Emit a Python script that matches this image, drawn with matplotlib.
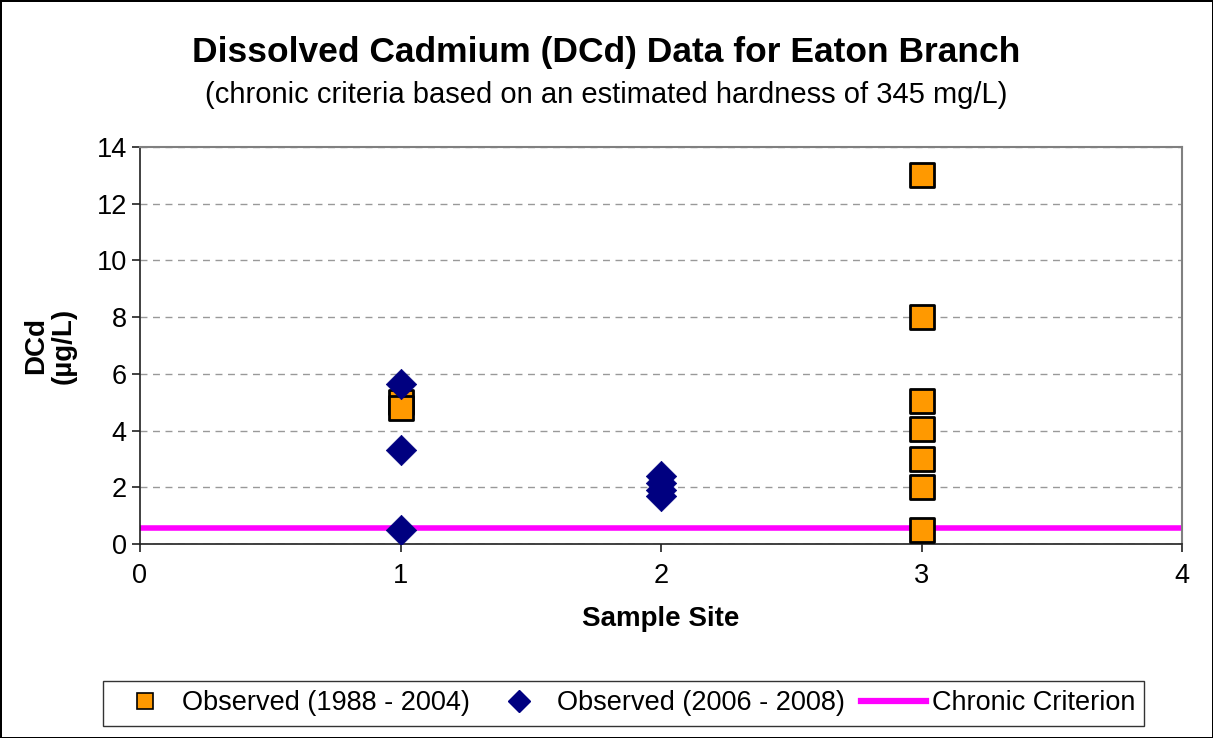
import matplotlib
matplotlib.use("Agg")
import matplotlib.pyplot as plt
from matplotlib.lines import Line2D

plt.rcParams['font.family'] = ['Liberation Sans', 'DejaVu Sans']

# Data
obs_old_site = [1, 1, 3, 3, 3, 3, 3, 3, 3]
obs_old_val = [5.0, 4.8, 13.0, 8.0, 5.05, 4.05, 3.0, 2.0, 0.5]
obs_new_site = [1, 1, 1, 2, 2, 2, 2]
obs_new_val = [5.65, 3.3, 0.5, 2.4, 2.15, 1.9, 1.7]
crit_x = [0, 4]
crit_y = [0.56, 0.56]

fig = plt.figure(figsize=(12.13, 7.38), dpi=100)
fig.patch.set_edgecolor('black')
fig.patch.set_linewidth(2)
ax = fig.add_axes([0.1154, 0.2629, 0.8591, 0.5379])

ax.plot(crit_x, crit_y, color='#FF00FF', lw=4, label='Chronic Criterion', zorder=2, solid_capstyle='butt')
ax.scatter(obs_old_site, obs_old_val, marker='s', s=320, color='#FF9900', edgecolor='black',
           linewidths=2, label='Observed (1988 - 2004)', zorder=3)
ax.scatter(obs_new_site, obs_new_val, marker='D', s=240, color='#000080', edgecolor='#000080',
           linewidths=0.5, label='Observed (2006 - 2008)', zorder=4)

ax.set_xlim(0, 4)
ax.set_ylim(0, 14)
ax.set_xticks([0, 1, 2, 3, 4])
ax.set_yticks(range(0, 15, 2))
ax.yaxis.grid(True, linestyle=(0, (5, 4)), color='#999999', lw=1)
ax.set_axisbelow(True)
for side in ('top', 'right'):
    ax.spines[side].set_color('#808080')
    ax.spines[side].set_linewidth(1.5)
for side in ('left', 'bottom'):
    ax.spines[side].set_color('#202020')
    ax.spines[side].set_linewidth(1.2)
ax.tick_params(axis='both', labelsize=19.5, direction='out', length=6, color='#202020', width=1.2)
ax.tick_params(axis='x', pad=8)
ax.set_xlabel('Sample Site', fontsize=20, fontweight='bold', labelpad=12)
ax.set_ylabel('DCd\n(\u00b5g/L)', fontsize=20, fontweight='bold', labelpad=14, linespacing=1.1)

fig.text(0.5, 0.929, 'Dissolved Cadmium (DCd) Data for Eaton Branch', ha='center', va='center',
         fontsize=25.5, fontweight='bold')
fig.text(0.5, 0.871, '(chronic criteria based on an estimated hardness of 345 mg/L)', ha='center',
         va='center', fontsize=21)

handles = [
    Line2D([], [], marker='s', color='none', markerfacecolor='#FF9900', markeredgecolor='black',
           markersize=12, markeredgewidth=1.2),
    Line2D([], [], marker='D', color='none', markerfacecolor='#000080', markeredgecolor='#000080',
           markersize=11),
    Line2D([], [], color='#FF00FF', lw=4.5),
]
labels = ['Observed (1988 - 2004)', 'Observed (2006 - 2008)', 'Chronic Criterion']
leg = fig.legend(handles, labels, loc='center', bbox_to_anchor=(0.514, 0.047), ncol=3,
                 fontsize=19.5, frameon=True, fancybox=False, edgecolor='black',
                 handlelength=2.4, columnspacing=0.6, handletextpad=0.2, borderpad=0.35)
leg.get_frame().set_linewidth(1)

fig.savefig('out.png', dpi=100, edgecolor=fig.get_edgecolor())
